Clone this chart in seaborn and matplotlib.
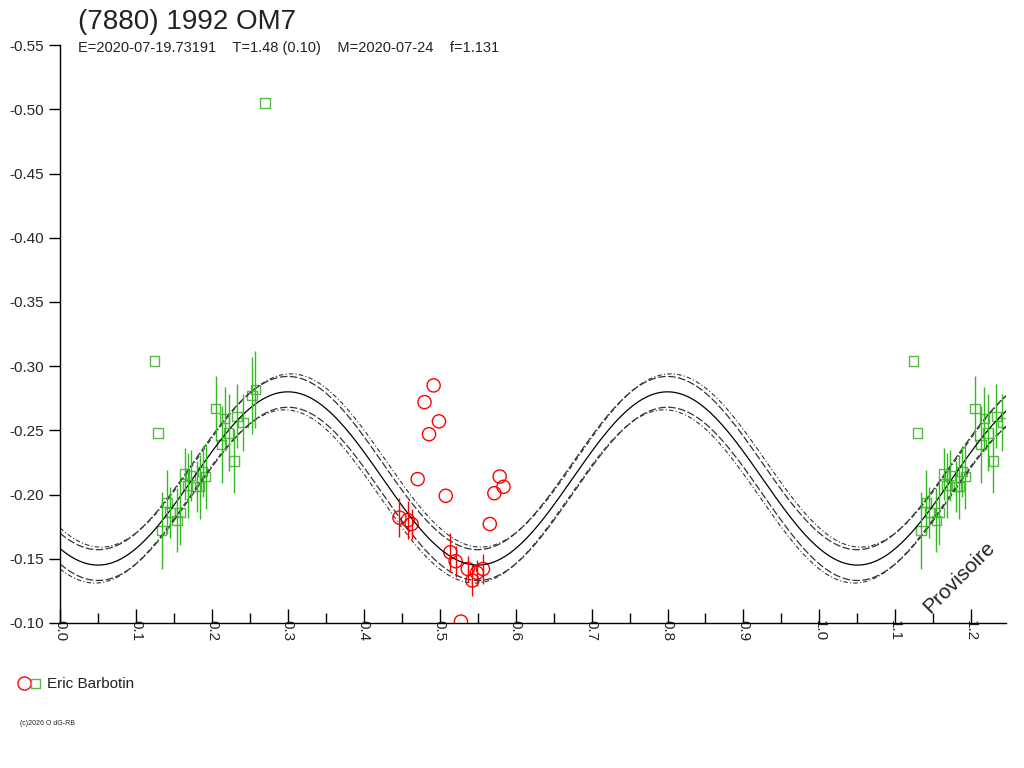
import numpy as np
import pandas as pd
import seaborn as sns
import matplotlib
matplotlib.use("Agg")
import matplotlib.pyplot as plt
from matplotlib.ticker import MultipleLocator

sns.set_theme(style="white")
plt.rcParams['font.family'] = ['Liberation Sans', 'DejaVu Sans']

# green squares (phase, mag, err)
green = [(0.124, -0.304, 0), (0.129, -0.248, 0), (0.270, -0.505, 0),
         (0.134, -0.172, 0.030), (0.141, -0.194, 0.025), (0.145, -0.186, 0.020),
         (0.154, -0.180, 0.025), (0.158, -0.186, 0.025), (0.164, -0.216, 0.020),
         (0.168, -0.207, 0.025), (0.172, -0.215, 0.020), (0.180, -0.206, 0.020),
         (0.184, -0.206, 0.025), (0.188, -0.218, 0.020), (0.192, -0.214, 0.025),
         (0.205, -0.267, 0.025), (0.213, -0.239, 0.030), (0.217, -0.259, 0.025),
         (0.222, -0.248, 0.030), (0.229, -0.226, 0.025), (0.233, -0.261, 0.025),
         (0.241, -0.256, 0.022), (0.253, -0.277, 0.030), (0.257, -0.282, 0.030)]
red = [(0.492, -0.285, 0), (0.480, -0.272, 0), (0.499, -0.257, 0), (0.486, -0.247, 0),
       (0.471, -0.212, 0), (0.508, -0.199, 0), (0.579, -0.214, 0), (0.584, -0.206, 0),
       (0.572, -0.201, 0), (0.566, -0.177, 0), (0.528, -0.101, 0),
       (0.447, -0.182, 0.015), (0.458, -0.180, 0.015), (0.463, -0.177, 0.012),
       (0.514, -0.155, 0.015), (0.521, -0.148, 0.012), (0.537, -0.142, 0.010),
       (0.543, -0.133, 0.012), (0.549, -0.139, 0.010), (0.557, -0.142, 0.012)]

g = pd.DataFrame(green, columns=['phase', 'mag', 'err'])
g2 = g.copy()
g2['phase'] += 1.0
g = pd.concat([g, g2])
r = pd.DataFrame(red, columns=['phase', 'mag', 'err'])

# fit: mean + amplitude, two maxima per period
mean, amp, ph0 = -0.2125, 0.0675, 0.30
xs = np.linspace(0, 1.25, 600)
def model(x, dx=0.0):
    return mean - amp * np.cos(4 * np.pi * (x - ph0 - dx))

fig = plt.figure(figsize=(10.24, 7.68), dpi=100)
ax = fig.add_axes([0.0586, 0.189, 0.924, 0.752])

sns.lineplot(x=xs, y=model(xs), color='black', lw=0.9, ax=ax)
sns.lineplot(x=xs, y=model(xs) - 0.012, color='#333333', lw=0.9, ls=(0, (6, 2)), ax=ax)
sns.lineplot(x=xs, y=model(xs) + 0.012, color='#333333', lw=0.9, ls=(0, (6, 2)), ax=ax)
sns.lineplot(x=xs, y=model(xs, 0.004) - 0.014, color='#333333', lw=0.8, ls=(0, (4, 2, 1, 2)), ax=ax)
sns.lineplot(x=xs, y=model(xs, -0.004) + 0.014, color='#333333', lw=0.8, ls=(0, (4, 2, 1, 2)), ax=ax)

ge = g[g.err > 0]
ax.errorbar(ge.phase, ge.mag, yerr=ge.err, fmt='none', ecolor='#33bb22', elinewidth=1)
re = r[r.err > 0]
ax.errorbar(re.phase, re.mag, yerr=re.err, fmt='none', ecolor='red', elinewidth=1)
sns.scatterplot(data=g, x='phase', y='mag', marker='s', s=45, facecolor='none',
                edgecolor='#55bb44', linewidth=1, ax=ax)
sns.scatterplot(data=r, x='phase', y='mag', marker='o', s=90, facecolor='none',
                edgecolor='red', linewidth=1, ax=ax)

ax.set_xlim(0, 1.246)
ax.set_ylim(-0.10, -0.55)
ax.set_xlabel('')
ax.set_ylabel('')
ax.xaxis.set_major_locator(MultipleLocator(0.1))
ax.xaxis.set_minor_locator(MultipleLocator(0.05))
ax.yaxis.set_major_locator(MultipleLocator(0.05))
ax.set_xticklabels([f'{t:.1f}' for t in ax.get_xticks()], rotation=-90)
ax.set_yticklabels([f'{t:.2f}' for t in ax.get_yticks()])
ax.tick_params(axis='x', which='major', direction='in', length=10, width=1, color='black',
               bottom=True, labelsize=11, pad=-2)
ax.tick_params(axis='x', which='minor', direction='in', length=7, width=1, color='black', bottom=True)
ax.tick_params(axis='y', direction='out', length=8, width=1, color='black', left=True, labelsize=11)
for s in ['top', 'right']:
    ax.spines[s].set_visible(False)
for s in ['left', 'bottom']:
    ax.spines[s].set_color('black')
    ax.spines[s].set_linewidth(1)

fig.text(0.076, 0.962, '(7880) 1992 OM7', fontsize=20, color='#222222')
fig.text(0.076, 0.932, 'E=2020-07-19.73191    T=1.48 (0.10)    M=2020-07-24    f=1.131',
         fontsize=10.5, color='#222222')
fig.text(0.937, 0.248, 'Provisoire', rotation=45, fontsize=15,
         ha='center', va='center', color='#222222')

# legend
lax = fig.add_axes([0, 0, 1, 1], facecolor='none')
lax.set_axis_off()
lax.set_xlim(0, 1)
lax.set_ylim(0, 1)
lax.scatter([0.024], [0.110], marker='o', s=90, facecolors='none', edgecolors='red', linewidths=1)
lax.scatter([0.035], [0.110], marker='s', s=40, facecolors='none', edgecolors='#55bb44', linewidths=1)
lax.text(0.046, 0.110, 'Eric Barbotin', fontsize=11, va='center', color='#222222')
lax.text(0.02, 0.056, '(c)2026 O dG-RB', fontsize=5, color='#222222')

fig.savefig('out.png', dpi=100, facecolor='white')
